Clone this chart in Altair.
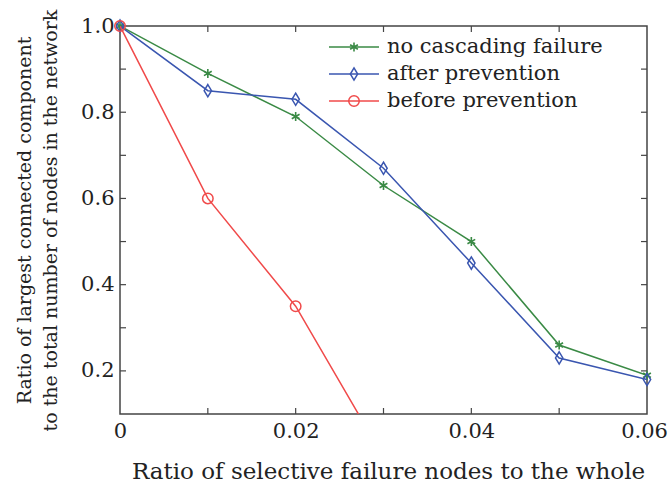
import altair as alt
import pandas as pd

# ---- data ----
x_vals = [0, 0.01, 0.02, 0.03, 0.04, 0.05, 0.06]
no_cascade = [1.0, 0.89, 0.79, 0.63, 0.50, 0.26, 0.19]
after_prev = [1.0, 0.85, 0.83, 0.67, 0.45, 0.23, 0.18]
before_x = [0, 0.01, 0.02, 0.03]
before_prev = [1.0, 0.60, 0.35, 0.0]

series_names = ["no cascading failure", "after prevention", "before prevention"]
series_colors = ["#3a8a45", "#3a56b0", "#f04a4a"]

x_minor_ticks = [0.01, 0.02, 0.03, 0.04, 0.05]
y_minor_ticks = [0.2, 0.3, 0.4, 0.5, 0.6, 0.7, 0.8, 0.9]
x_label_vals = [0, 0.02, 0.04, 0.06]
y_label_vals = [0.2, 0.4, 0.6, 0.8, 1.0]

W, H = 527, 388
FONT = "DejaVu Serif"

df_g = pd.DataFrame({"x": x_vals, "y": no_cascade})
df_b = pd.DataFrame({"x": x_vals, "y": after_prev})
df_r = pd.DataFrame({"x": before_x, "y": before_prev})

xscale = alt.Scale(domain=[0, 0.06], nice=False, zero=False)
yscale = alt.Scale(domain=[0.1, 1.0], nice=False, zero=False)

ASTERISK = "M0,-1L0,1M-0.87,-0.5L0.87,0.5M-0.87,0.5L0.87,-0.5"
DIAMOND = "M0,-1L0.6,0L0,1L-0.6,0Z"

xaxis = alt.Axis(values=x_label_vals, grid=False, domain=False, ticks=False,
                 labelExpr="datum.value == 0 ? '0' : format(datum.value, '.2f')",
                 labelFont=FONT, labelFontSize=21, labelColor="#222", labelPadding=6,
                 labelOffset={"condition": {"test": "datum.value >= 0.06", "value": -3}, "value": 0},
                 title="Ratio of selective failure nodes to the whole",
                 titleFont=FONT, titleFontSize=23, titleFontWeight="normal", titleColor="#222",
                 titleX=268, titleY=64, titleAlign="center", titleAnchor="middle",
                 titleBaseline="alphabetic", labelFlush=False)
yaxis = alt.Axis(values=y_label_vals, grid=False, domain=False, ticks=False,
                 format=".1f", labelFont=FONT, labelFontSize=21, labelColor="#222",
                 labelPadding=6,
                 title=["Ratio of largest connected component",
                        "to the total number of nodes in the network"],
                 titleFont=FONT, titleFontSize=19, titleFontWeight="normal", titleColor="#222",
                 titleX=-96, titleY=194, titleAngle=-90, titleBaseline="middle",
                 titleAlign="center", titleAnchor="middle",
                 titleLineHeight=26, labelFlush=False)

def series(df, color, shape, size, sw=1.5):
    base = alt.Chart(df)
    line = base.mark_line(color=color, strokeWidth=1.5, clip=True).encode(
        x=alt.X("x:Q", scale=xscale, axis=xaxis),
        y=alt.Y("y:Q", scale=yscale, axis=yaxis))
    pts = base.transform_filter("datum.y >= 0.1").mark_point(
        color=color, shape=shape, size=size, filled=False,
        strokeWidth=sw, opacity=1).encode(
        x=alt.X("x:Q", scale=xscale), y=alt.Y("y:Q", scale=yscale))
    return line + pts

g = series(df_g, series_colors[0], ASTERISK, 80, sw=1.6)
b = series(df_b, series_colors[1], DIAMOND, 150)
r = series(df_r, series_colors[2], "circle", 110)

# inward ticks on all four sides
tick_color = "#444"
dfx = pd.DataFrame({"x": x_minor_ticks})
dfy = pd.DataFrame({"y": y_minor_ticks})
tb = alt.Chart(dfx).mark_rule(color=tick_color, strokeWidth=1.2).encode(
    x=alt.X("x:Q", scale=xscale), y=alt.value(H), y2=alt.value(H - 6))
tt = alt.Chart(dfx).mark_rule(color=tick_color, strokeWidth=1.2).encode(
    x=alt.X("x:Q", scale=xscale), y=alt.value(0), y2=alt.value(6))
tl = alt.Chart(dfy).mark_rule(color=tick_color, strokeWidth=1.2).encode(
    y=alt.Y("y:Q", scale=yscale), x=alt.value(0), x2=alt.value(6))
tr = alt.Chart(dfy).mark_rule(color=tick_color, strokeWidth=1.2).encode(
    y=alt.Y("y:Q", scale=yscale), x=alt.value(W), x2=alt.value(W - 6))

# legend (line + marker + label)
leg_layers = []
shapes = [(ASTERISK, 80, 1.6), (DIAMOND, 150, 1.5), ("circle", 110, 1.5)]
row_y = [21, 48, 75]
for name, col, (shp, sz, sw), yy in zip(series_names, series_colors, shapes, row_y):
    d = pd.DataFrame({"label": [name]})
    leg_layers.append(alt.Chart(d).mark_rule(color=col, strokeWidth=1.5).encode(
        x=alt.value(209), x2=alt.value(259), y=alt.value(yy)))
    leg_layers.append(alt.Chart(d).mark_point(color=col, shape=shp, size=sz, filled=False,
                                              strokeWidth=sw, opacity=1).encode(
        x=alt.value(234), y=alt.value(yy)))
    leg_layers.append(alt.Chart(d).mark_text(align="left", baseline="middle", font=FONT,
                                             fontSize=21, color="#222").encode(
        x=alt.value(267), y=alt.value(yy), text="label:N"))

chart = alt.layer(tb, tt, tl, tr, g, b, r, *leg_layers).properties(
    width=W, height=H,
    autosize=alt.AutoSizeParams(type="none"),
    padding={"left": 120, "top": 26, "right": 21, "bottom": 70},
    background="white",
).configure_view(stroke="#444", strokeWidth=1.5)

chart.save("out.html", embed_options={"renderer": "svg", "actions": False})
